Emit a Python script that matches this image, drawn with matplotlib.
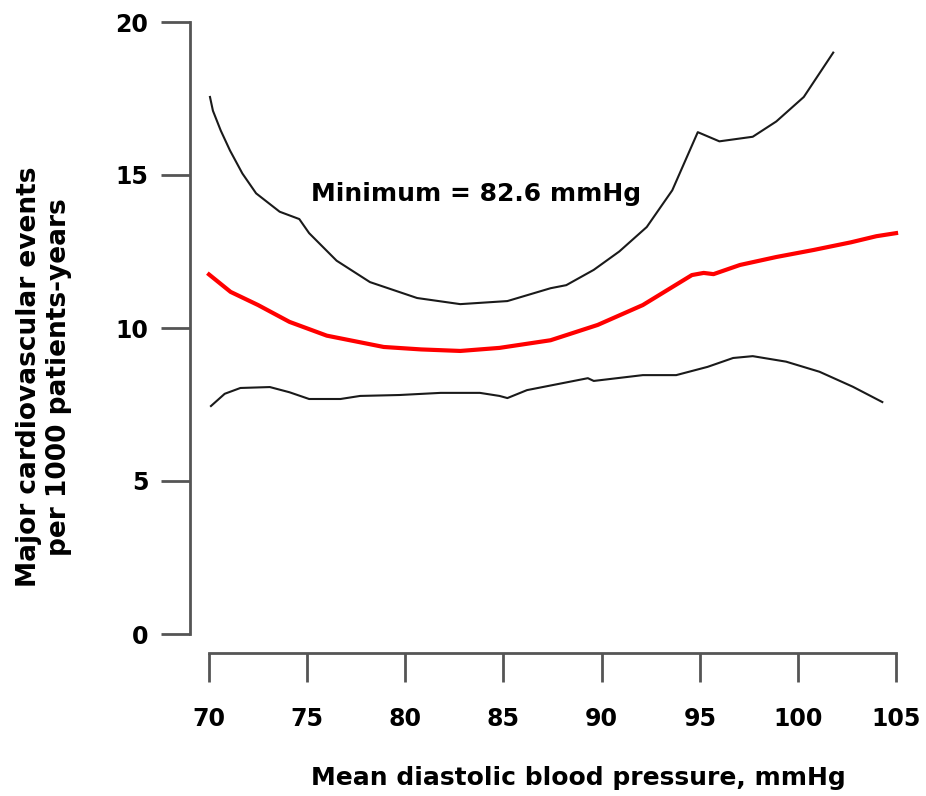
import matplotlib
matplotlib.use("Agg")
import matplotlib.pyplot as plt

# Estimate and confidence band
dbp_mid = [70.0, 71.1, 72.5, 74.1, 76.0, 78.9, 80.8, 82.8, 84.8, 87.4, 89.8,
           92.1, 94.6, 95.2, 95.7, 97.05, 98.9, 100.8, 102.7, 104.0, 105.0]
events_mid = [11.75, 11.18, 10.75, 10.2, 9.75, 9.38, 9.3, 9.25, 9.35, 9.6, 10.1,
              10.75, 11.73, 11.8, 11.76, 12.06, 12.32, 12.55, 12.8, 13.0, 13.1]

dbp_upper = [70.05, 70.2, 70.6, 71.07, 71.7, 72.4, 73.6, 74.6, 75.1, 76.5, 78.2, 80.6,
             82.8, 85.2, 87.4, 88.2, 89.6, 90.9, 92.3, 93.6, 94.9, 96.0, 97.7, 98.9,
             100.3, 101.8]
events_upper = [17.55, 17.1, 16.45, 15.8, 15.05, 14.4, 13.8, 13.56, 13.1, 12.2, 11.5, 10.98,
                10.78, 10.88, 11.3, 11.4, 11.9, 12.5, 13.3, 14.5, 16.4, 16.1, 16.25, 16.75,
                17.55, 19.0]

dbp_lower = [70.1, 70.8, 71.6, 73.1, 74.1, 75.1, 76.7, 77.7, 79.7, 81.8, 83.8, 84.8, 85.2,
             86.2, 89.3, 89.6, 92.1, 93.8, 95.4, 96.7, 97.7, 99.4, 101.1, 102.8, 104.3]
events_lower = [7.45, 7.85, 8.04, 8.07, 7.9, 7.68, 7.68, 7.78, 7.81, 7.88, 7.88, 7.78, 7.71,
                7.97, 8.36, 8.27, 8.46, 8.46, 8.73, 9.02, 9.08, 8.9, 8.57, 8.08, 7.58]

x_ticks = [70, 75, 80, 85, 90, 95, 100, 105]
y_ticks = [0, 5, 10, 15, 20]

W, H = 926, 796
fig = plt.figure(figsize=(W / 100, H / 100), dpi=100)

# pixel layout of the original plot region
x0, x1, y0, y1 = 69.03, 105.5, -0.62, 20.5
px_x = lambda v: 209 + (v - 70) * 19.63
px_y = lambda v: 634 - v * 30.6
left, right = px_x(x0), px_x(x1)
top, bottom = px_y(y1), px_y(y0)
ax = fig.add_axes([left / W, 1 - bottom / H, (right - left) / W, (bottom - top) / H])

ax.plot(dbp_upper, events_upper, color="#1a1a1a", lw=1.5)
ax.plot(dbp_lower, events_lower, color="#1a1a1a", lw=1.5)
ax.plot(dbp_mid, events_mid, color="#ff0000", lw=3.0)

ax.set_xlim(x0, x1)
ax.set_ylim(y0, y1)

grey = "#555555"
for s in ["top", "right"]:
    ax.spines[s].set_visible(False)
ax.spines["left"].set_bounds(0, 20)
ax.spines["bottom"].set_bounds(70, 105)
for s in ["left", "bottom"]:
    ax.spines[s].set_color(grey)
    ax.spines[s].set_linewidth(2.0)

ax.set_xticks(x_ticks)
ax.set_yticks(y_ticks)
ax.tick_params(axis="both", length=21, width=2.0, color=grey, labelsize=17)
ax.tick_params(axis="x", pad=18)
ax.tick_params(axis="y", pad=9)
for lab in ax.get_xticklabels() + ax.get_yticklabels():
    lab.set_fontweight("bold")

ax.set_xlabel("Mean diastolic blood pressure, mmHg", fontsize=18, fontweight="bold")
ax.xaxis.set_label_coords(0.543, -0.175)
ax.set_ylabel("Major cardiovascular events\nper 1000 patients-years",
              fontsize=19, fontweight="bold")
ax.yaxis.set_label_coords(-0.165, 0.427)

ax.text(83.6, 14.15, "Minimum = 82.6 mmHg", fontsize=18, fontweight="bold",
        ha="center", va="baseline")

fig.savefig("out.png", dpi=100)
